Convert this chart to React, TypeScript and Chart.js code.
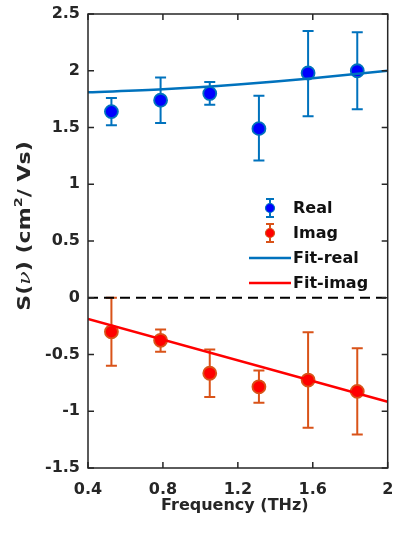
import { useEffect, useRef } from "react";
import { Chart, registerables } from "chart.js";

Chart.register(...registerables);

// Measured mobility spectrum S(ν): real and imaginary parts with error bars
const freq = [0.525, 0.7875, 1.05, 1.3125, 1.575, 1.8375];
const realVal = [1.64, 1.74, 1.8, 1.49, 1.98, 2.0];
const realLow = [1.52, 1.54, 1.7, 1.21, 1.6, 1.66];
const realHigh = [1.76, 1.94, 1.9, 1.78, 2.35, 2.34];
const imagVal = [-0.3, -0.375, -0.665, -0.785, -0.725, -0.825];
const imagLow = [-0.6, -0.475, -0.875, -0.925, -1.145, -1.205];
const imagHigh = [0.0, -0.28, -0.455, -0.64, -0.305, -0.445];

// Fitted curves
const fitRealFreq = [0.4, 0.8, 1.2, 1.6, 2.0];
const fitReal = [1.81, 1.836, 1.878, 1.933, 2.0];
const fitImagFreq = [0.4, 2.0];
const fitImag = [-0.187, -0.916];

// Axes
const xTicks = [0.4, 0.8, 1.2, 1.6, 2];
const yTicks = [-1.5, -1, -0.5, 0, 0.5, 1, 1.5, 2, 2.5];
const xTitle = "Frequency (THz)";
const legendLabels = ["Real", "Imag", "Fit-real", "Fit-imag"];

const BLUE_BAR = "#0072BD";
const BLUE_FILL = "#0000FF";
const RED_BAR = "#D95319";
const RED_FILL = "#FF0000";
const FIT_RED = "#FF0000";
const INK = "#262626";
const FONT = '"DejaVu Sans", sans-serif';

function errorBars(
  ctx: CanvasRenderingContext2D,
  xs: any,
  ys: any,
  low: number[],
  high: number[],
  color: string
) {
  ctx.save();
  ctx.strokeStyle = color;
  ctx.lineWidth = 2;
  const cap = 5.5;
  freq.forEach((f, i) => {
    const x = xs.getPixelForValue(f);
    const y1 = ys.getPixelForValue(low[i]);
    const y2 = ys.getPixelForValue(high[i]);
    ctx.beginPath();
    ctx.moveTo(x, y1);
    ctx.lineTo(x, y2);
    ctx.moveTo(x - cap, y1);
    ctx.lineTo(x + cap, y1);
    ctx.moveTo(x - cap, y2);
    ctx.lineTo(x + cap, y2);
    ctx.stroke();
  });
  ctx.restore();
}

const errorBarPlugin = {
  id: "errorBars",
  beforeDatasetsDraw(chart: any) {
    const { ctx, scales } = chart;
    errorBars(ctx, scales.x, scales.y, realLow, realHigh, BLUE_BAR);
    errorBars(ctx, scales.x, scales.y, imagLow, imagHigh, RED_BAR);
  },
};

const framePlugin = {
  id: "frame",
  afterDraw(chart: any) {
    const { ctx, chartArea: a, scales } = chart;
    ctx.save();
    ctx.strokeStyle = INK;
    ctx.lineWidth = 1.5;
    ctx.strokeRect(a.left, a.top, a.right - a.left, a.bottom - a.top);
    const tl = 6;
    ctx.beginPath();
    xTicks.forEach((v) => {
      const x = scales.x.getPixelForValue(v);
      ctx.moveTo(x, a.bottom);
      ctx.lineTo(x, a.bottom - tl);
      ctx.moveTo(x, a.top);
      ctx.lineTo(x, a.top + tl);
    });
    yTicks.forEach((v) => {
      const y = scales.y.getPixelForValue(v);
      ctx.moveTo(a.left, y);
      ctx.lineTo(a.left + tl, y);
      ctx.moveTo(a.right, y);
      ctx.lineTo(a.right - tl, y);
    });
    ctx.stroke();

    // x-axis title
    ctx.fillStyle = INK;
    ctx.font = `bold 16px ${FONT}`;
    ctx.textAlign = "center";
    ctx.textBaseline = "middle";
    ctx.fillText(xTitle, (a.left + a.right) / 2 - 3, 506);

    // y-axis title: S(ν) (cm²/ Vs), drawn slightly widened
    ctx.translate(26, 226);
    ctx.rotate(-Math.PI / 2);
    ctx.scale(1.3, 1);
    const bold = `bold 17px ${FONT}`;
    const ital = `italic 17px "DejaVu Serif", serif`;
    const sup = `bold 11px ${FONT}`;
    const parts: [string, string, number][] = [
      ["S(", bold, 0],
      ["ν", ital, 0],
      [") (cm", bold, 0],
      ["2", sup, -7],
      ["/ Vs)", bold, 0],
    ];
    let total = 0;
    parts.forEach(([t, f]) => {
      ctx.font = f;
      total += ctx.measureText(t).width;
    });
    let cx = -total / 2;
    ctx.textAlign = "left";
    parts.forEach(([t, f, dy]) => {
      ctx.font = f;
      ctx.fillText(t, cx, dy);
      cx += ctx.measureText(t).width;
    });
    ctx.restore();

    // legend
    ctx.save();
    const rows = [208, 233, 258, 283];
    const symX = 270;
    const textX = 293;
    ctx.font = `bold 16px ${FONT}`;
    ctx.fillStyle = "#111";
    ctx.textAlign = "left";
    ctx.textBaseline = "middle";
    legendLabels.forEach((lab, i) => ctx.fillText(lab, textX, rows[i] + 1));

    const legendMarker = (y: number, bar: string, fill: string) => {
      ctx.strokeStyle = bar;
      ctx.lineWidth = 2;
      ctx.beginPath();
      ctx.moveTo(symX, y - 9);
      ctx.lineTo(symX, y + 9);
      ctx.moveTo(symX - 4, y - 9);
      ctx.lineTo(symX + 4, y - 9);
      ctx.moveTo(symX - 4, y + 9);
      ctx.lineTo(symX + 4, y + 9);
      ctx.stroke();
      ctx.fillStyle = fill;
      ctx.lineWidth = 1.2;
      ctx.beginPath();
      ctx.arc(symX, y, 4.5, 0, Math.PI * 2);
      ctx.fill();
      ctx.stroke();
    };
    legendMarker(rows[0], BLUE_BAR, BLUE_FILL);
    legendMarker(rows[1], RED_BAR, RED_FILL);
    ctx.lineWidth = 2.5;
    [
      [rows[2], BLUE_BAR],
      [rows[3], FIT_RED],
    ].forEach(([y, c]) => {
      ctx.strokeStyle = c as string;
      ctx.beginPath();
      ctx.moveTo(249, y as number);
      ctx.lineTo(291, y as number);
      ctx.stroke();
    });
    ctx.restore();
  },
};

const zeroPaddings = (s: any) => {
  s.paddingLeft = 0;
  s.paddingRight = 0;
  s.paddingTop = 0;
  s.paddingBottom = 0;
};

export default function App() {
  const ref = useRef<HTMLCanvasElement>(null);

  useEffect(() => {
    if (!ref.current) return;
    const pts = (xs: number[], ys: number[]) => xs.map((x, i) => ({ x, y: ys[i] }));
    const chart = new Chart(ref.current, {
      type: "scatter",
      data: {
        datasets: [
          {
            label: "Fit-real",
            type: "line",
            data: pts(fitRealFreq, fitReal),
            borderColor: BLUE_BAR,
            borderWidth: 2.5,
            pointRadius: 0,
            cubicInterpolationMode: "monotone",
            order: 0,
          },
          {
            label: "Fit-imag",
            type: "line",
            data: pts(fitImagFreq, fitImag),
            borderColor: FIT_RED,
            borderWidth: 2.5,
            pointRadius: 0,
            order: 0,
          },
          {
            label: "Real",
            data: pts(freq, realVal),
            pointRadius: 6.5,
            pointBackgroundColor: BLUE_FILL,
            pointBorderColor: BLUE_BAR,
            pointBorderWidth: 1.8,
            order: 1,
          },
          {
            label: "Imag",
            data: pts(freq, imagVal),
            pointRadius: 6.5,
            pointBackgroundColor: RED_FILL,
            pointBorderColor: RED_BAR,
            pointBorderWidth: 1.8,
            order: 1,
          },
          {
            label: "zero",
            type: "line",
            data: pts([0.4, 2], [0, 0]),
            borderColor: "#000",
            borderWidth: 1.8,
            borderDash: [10, 6],
            pointRadius: 0,
            order: 2,
          },
        ],
      },
      options: {
        responsive: false,
        animation: false,
        events: [],
        layout: { padding: { top: 14, right: 5.3, left: 0, bottom: 0 } },
        plugins: { legend: { display: false }, tooltip: { enabled: false } },
        scales: {
          x: {
            type: "linear",
            min: 0.4,
            max: 2,
            grid: { display: false, drawTicks: false },
            border: { display: false },
            afterBuildTicks: (s: any) => {
              s.ticks = xTicks.map((value) => ({ value }));
            },
            afterFit: (s: any) => {
              s.height = 66;
              zeroPaddings(s);
            },
            ticks: {
              color: INK,
              padding: 12,
              maxRotation: 0,
              font: { family: FONT, size: 16, weight: "bold" },
              callback: (v: any) => String(v),
            },
          },
          y: {
            type: "linear",
            min: -1.5,
            max: 2.5,
            grid: { display: false, drawTicks: false },
            border: { display: false },
            afterBuildTicks: (s: any) => {
              s.ticks = yTicks.map((value) => ({ value }));
            },
            afterFit: (s: any) => {
              s.width = 88;
              zeroPaddings(s);
            },
            ticks: {
              color: INK,
              padding: 8,
              font: { family: FONT, size: 16, weight: "bold" },
              callback: (v: any) => String(v),
            },
          },
        },
      },
      plugins: [errorBarPlugin, framePlugin],
    });
    return () => chart.destroy();
  }, []);

  return (
    <div style={{ position: "absolute", left: 0, top: 0, width: 396, height: 534, background: "#fff" }}>
      <canvas ref={ref} width={396} height={534} />
    </div>
  );
}
